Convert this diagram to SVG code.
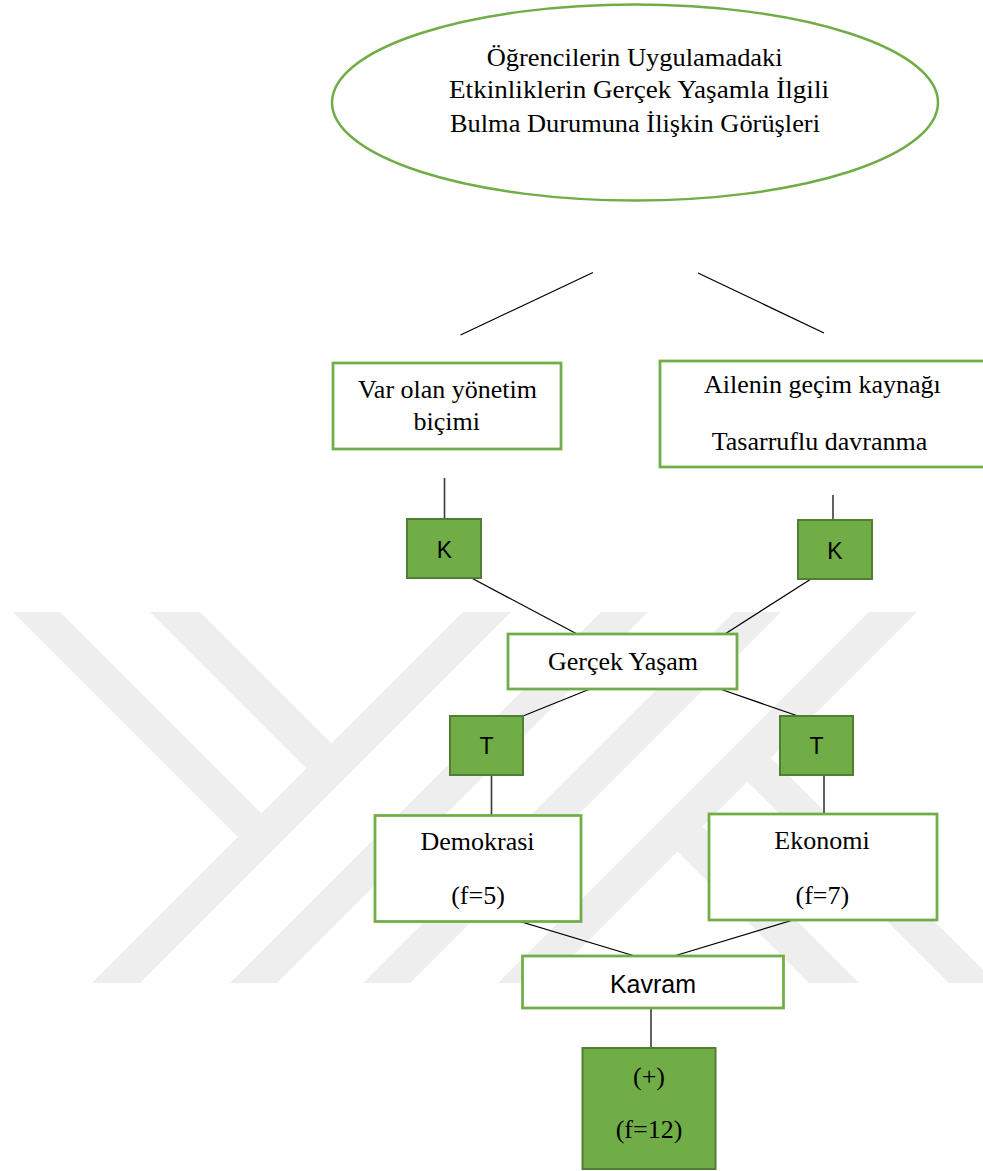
<svg xmlns="http://www.w3.org/2000/svg" width="983" height="1171" viewBox="0 0 983 1171">
  <defs>
    <clipPath id="wm-clip">
      <rect x="0" y="612" width="983" height="371"/>
    </clipPath>
    <style>
      .bg { fill: #ffffff; }
      .wm { fill: #eeeeee; }
      .frame { fill: #ffffff; stroke: #70ad47; stroke-width: 2.75; }
      .oval { fill: #ffffff; stroke: #70ad47; stroke-width: 2.5; }
      .tag { fill: #70ad47; stroke: #507e32; stroke-width: 2; }
      .serif { font-family: "Liberation Serif", "Times New Roman", serif; font-size: 26px; fill: #000000; text-anchor: middle; }
      .sans { font-family: "Liberation Sans", Arial, sans-serif; fill: #000000; text-anchor: middle; }
      .link { stroke: #000000; stroke-width: 1.25; fill: none; }
      .stem { stroke: #3a3a3a; stroke-width: 1.6; fill: none; }
    </style>
  </defs>

  <rect class="bg" x="0" y="0" width="983" height="1171"/>

  <!-- faint background emblem made of diagonal bands -->
  <g id="emblem" clip-path="url(#wm-clip)">
    <polygon class="wm" points="1,600 48,600 261.5,813.5 238,837"/>
    <polygon class="wm" points="138,600 188,600 331.5,743.5 306.5,768.5"/>
    <polygon class="wm" points="475,600 523,600 123,1000 75,1000"/>
    <polygon class="wm" points="613,600 660,600 260,1000 213,1000"/>
    <polygon class="wm" points="746,600 793,600 393,1000 346,1000"/>
    <polygon class="wm" points="881,600 929,600 529,1000 481,1000"/>
    <polygon class="wm" points="747.5,781.5 771,758 1013,1000 966,1000"/>
    <polygon class="wm" points="677.5,851.5 702.5,826.5 876,1000 826,1000"/>
  </g>

  <!-- connectors -->
  <g id="connectors">
    <line class="link" x1="593" y1="272.5" x2="460.5" y2="335"/>
    <line class="link" x1="698" y1="273" x2="824" y2="333"/>
    <line class="stem" x1="444.5" y1="478" x2="444.5" y2="519"/>
    <line class="stem" x1="833" y1="495" x2="833" y2="520"/>
    <line class="link" x1="471.5" y1="578" x2="577" y2="634"/>
    <line class="link" x1="811" y1="579" x2="711" y2="643"/>
    <line class="link" x1="590" y1="689" x2="523" y2="716"/>
    <line class="link" x1="720" y1="689" x2="798" y2="716"/>
    <line class="stem" x1="491.5" y1="775" x2="491.5" y2="816"/>
    <line class="stem" x1="824" y1="768" x2="824" y2="814"/>
    <line class="link" x1="475" y1="908" x2="658" y2="963"/>
    <line class="link" x1="833" y1="908" x2="651" y2="963"/>
    <line class="stem" x1="651" y1="1000" x2="651" y2="1054"/>
  </g>

  <!-- top question -->
  <g id="node-question">
    <ellipse class="oval" cx="635" cy="102.5" rx="303" ry="98"/>
    <text class="serif" x="634.7" y="65.7" textLength="296" lengthAdjust="spacingAndGlyphs">Öğrencilerin Uygulamadaki</text>
    <text class="serif" x="639" y="98.3" textLength="380" lengthAdjust="spacingAndGlyphs">Etkinliklerin Gerçek Yaşamla İlgili</text>
    <text class="serif" x="635" y="131.7" textLength="370" lengthAdjust="spacingAndGlyphs">Bulma Durumuna İlişkin Görüşleri</text>
  </g>

  <g id="node-yonetim">
    <rect class="frame" x="333" y="363" width="228" height="86"/>
    <text class="serif" x="447.5" y="398.3">Var olan yönetim</text>
    <text class="serif" x="446.7" y="430">biçimi</text>
  </g>

  <g id="node-gecim">
    <rect class="frame" x="660" y="361" width="330" height="106"/>
    <text class="serif" x="822.4" y="393.3">Ailenin geçim kaynağı</text>
    <text class="serif" x="819.5" y="450">Tasarruflu davranma</text>
  </g>

  <g id="node-k-left">
    <rect class="tag" x="407" y="519" width="74" height="59"/>
    <text class="sans" x="444.5" y="558" font-size="23">K</text>
  </g>

  <g id="node-k-right">
    <rect class="tag" x="798" y="520" width="74" height="59"/>
    <text class="sans" x="835" y="559" font-size="23">K</text>
  </g>

  <g id="node-gercek">
    <rect class="frame" x="508" y="634" width="229" height="55"/>
    <text class="serif" x="623" y="670">Gerçek Yaşam</text>
  </g>

  <g id="node-t-left">
    <rect class="tag" x="450" y="716" width="73" height="59"/>
    <text class="sans" x="486.5" y="754" font-size="23">T</text>
  </g>

  <g id="node-t-right">
    <rect class="tag" x="780" y="716" width="73" height="59"/>
    <text class="sans" x="816.5" y="754" font-size="23">T</text>
  </g>

  <g id="node-demokrasi">
    <rect class="frame" x="375" y="815.5" width="206" height="106"/>
    <text class="serif" x="477.5" y="849.5">Demokrasi</text>
    <text class="serif" x="478" y="904">(f=5)</text>
  </g>

  <g id="node-ekonomi">
    <rect class="frame" x="709" y="814" width="228" height="106"/>
    <text class="serif" x="822" y="848.5">Ekonomi</text>
    <text class="serif" x="822.3" y="903.5">(f=7)</text>
  </g>

  <g id="node-kavram">
    <rect class="frame" x="522.5" y="956" width="261" height="52"/>
    <text class="sans" x="653" y="993" font-size="25">Kavram</text>
  </g>

  <g id="node-result">
    <rect class="tag" x="582.5" y="1048" width="133" height="121"/>
    <text class="serif" x="649" y="1085">(+)</text>
    <text class="serif" x="649" y="1138">(f=12)</text>
  </g>
</svg>
